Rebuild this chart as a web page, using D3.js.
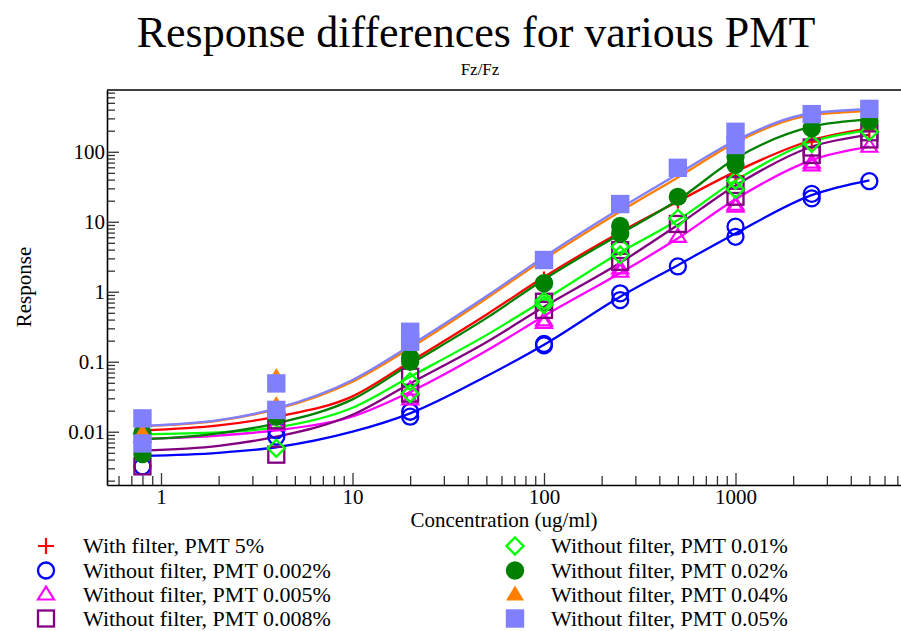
<!DOCTYPE html>
<html><head><meta charset="utf-8">
<script src="https://cdn.jsdelivr.net/npm/d3@7"></script>
<style>
html,body{margin:0;padding:0;background:#fff;}
svg{display:block;font-family:"Liberation Serif","Times New Roman",serif;}
</style></head><body>
<svg id="chart" width="901" height="631"></svg>
<script>
// ---------- data ----------
const titleText = "Response differences for various PMT";
const subtitleText = "Fz/Fz";
const xTitle = "Concentration (ug/ml)";
const yTitle = "Response";
const xTickValues = [1, 10, 100, 1000];
const xTickLabels = ["1", "10", "100", "1000"];
const yTickValues = [0.01, 0.1, 1, 10, 100];
const yTickLabels = ["0.01", "0.1", "1", "10", "100"];

const seriesNames = [
  "With filter, PMT 5%",
  "Without filter, PMT 0.002%",
  "Without filter, PMT 0.005%",
  "Without filter, PMT 0.008%",
  "Without filter, PMT 0.01%",
  "Without filter, PMT 0.02%",
  "Without filter, PMT 0.04%",
  "Without filter, PMT 0.05%"
];

// fitted curves, read at these concentrations
const curveConc = [0.8, 2, 4, 10, 20, 50, 100, 250, 500, 1000, 2500, 5000];
const fitPMT5    = [0.0104, 0.0123, 0.0164, 0.032, 0.100, 0.47, 1.62, 7.1, 19.5, 52, 146, 215];
const fitPMT0002 = [0.0045, 0.0050, 0.0060, 0.0100, 0.0183, 0.062, 0.175, 0.85, 2.4, 6.8, 24, 39];
const fitPMT0005 = [0.0079, 0.0088, 0.0105, 0.0165, 0.037, 0.143, 0.45, 1.85, 5.8, 21, 76, 118];
const fitPMT0008 = [0.0054, 0.0063, 0.0085, 0.0175, 0.049, 0.19, 0.61, 2.6, 9.0, 33, 118, 174];
const fitPMT001  = [0.0092, 0.0098, 0.0115, 0.022, 0.061, 0.24, 0.76, 3.65, 10.6, 39, 139, 204];
const fitPMT002  = [0.0078, 0.0095, 0.0132, 0.029, 0.092, 0.42, 1.5, 6.7, 20.4, 80, 228, 287];
const fitPMT004  = [0.0120, 0.0144, 0.0210, 0.052, 0.157, 0.80, 2.9, 14, 43, 135, 334, 380];
const fitPMT005  = [0.0121, 0.0146, 0.0215, 0.055, 0.170, 0.86, 3.15, 15.5, 48, 145, 355, 405];

// measured points [concentration, response]
const ptsPMT5 = [[0.8,0.0105],[4,0.0165],[20,0.098],[100,1.5],[250,7.0],[500,20],[1000,45],[2500,140],[5000,205]];
const ptsPMT0002 = [[0.8,0.0032],[4,0.0105],[4,0.0085],[20,0.0193],[20,0.0164],[100,0.18],[100,0.172],[250,0.95],[250,0.76],[500,2.3],[1000,8.5],[1000,6.1],[2500,25],[2500,21.6],[5000,38]];
const ptsPMT0005 = [[0.8,0.0085],[4,0.0124],[20,0.040],[20,0.029],[100,0.39],[100,0.36],[250,2.16],[250,1.93],[500,6.1],[1000,16.4],[1000,17.5],[2500,64],[2500,70],[5000,118]];
const ptsPMT0008 = [[0.8,0.0032],[4,0.0047],[4,0.0145],[20,0.061],[20,0.035],[100,0.72],[100,0.55],[250,3.94],[250,2.68],[500,9.3],[1000,33.5],[1000,22.8],[2500,115],[2500,90],[5000,190],[5000,150]];
const ptsPMT001 = [[0.8,0.0093],[4,0.0058],[20,0.052],[20,0.035],[100,0.74],[100,0.65],[250,4.4],[250,3.35],[500,11.2],[1000,39],[1000,29],[2500,132],[5000,193]];
const ptsPMT002 = [[0.8,0.0096],[0.8,0.0048],[4,0.0164],[20,0.115],[20,0.100],[100,1.32],[250,8.7],[250,6.8],[500,22.7],[1000,85],[1000,65],[2500,216],[5000,272]];
const ptsPMT004 = [[0.8,0.0097],[4,0.0605],[4,0.024],[20,0.24],[100,2.84],[250,17.9],[500,59],[1000,190],[1000,125],[2500,345],[5000,410]];
const ptsPMT005 = [[0.8,0.0155],[0.8,0.0068],[4,0.049],[4,0.0205],[20,0.268],[20,0.193],[100,2.84],[250,17.9],[500,59],[1000,193],[1000,125],[2500,345],[5000,410]];

const seriesColors = ["#ff0000","#0000ff","#ff00ff","#800080","#00ff00","#008000","#ff8000","#8080ff"];
const seriesSymbols = ["plus","circle","triangle","square","diamond","dot","filledTriangle","filledSquare"];
const seriesFits = [fitPMT5, fitPMT0002, fitPMT0005, fitPMT0008, fitPMT001, fitPMT002, fitPMT004, fitPMT005];
const seriesPts = [ptsPMT5, ptsPMT0002, ptsPMT0005, ptsPMT0008, ptsPMT001, ptsPMT002, ptsPMT004, ptsPMT005];

const series = seriesNames.map((name, i) => ({
  name, color: seriesColors[i], symbol: seriesSymbols[i],
  fit: curveConc.map((c, j) => [c, seriesFits[i][j]]),
  pts: seriesPts[i]
}));

// ---------- layout ----------
const svg = d3.select("#chart");
const L = 107, R = 901, T = 90, B = 485;
const x = d3.scaleLog().domain([0.5224, 7315]).range([L, R]);
const y = d3.scaleLog().domain([0.001733, 763]).range([B, T]);

// title
svg.append("text").attr("x", 476).attr("y", 47).attr("text-anchor", "middle")
  .attr("font-size", 44).attr("fill", "#000").text(titleText);
svg.append("text").attr("x", 480).attr("y", 75).attr("text-anchor", "middle")
  .attr("font-size", 17).attr("fill", "#000").text(subtitleText);

// axes
const isPow = v => Math.abs(Math.log10(v) - Math.round(Math.log10(v))) < 1e-6;
const xMinor = x.ticks().filter(v => !isPow(v));
const yMinor = y.ticks().filter(v => !isPow(v));

const gx = svg.append("g").attr("transform", `translate(0,${B})`);
gx.call(d3.axisBottom(x).tickValues(xMinor).tickSize(-9).tickSizeOuter(0).tickFormat(""));
gx.call(g => g.select(".domain").remove());
const gx2 = svg.append("g").attr("transform", `translate(0,${B})`);
gx2.call(d3.axisBottom(x).tickValues(xTickValues).tickSize(-12).tickSizeOuter(0).tickPadding(4)
  .tickFormat((d, i) => xTickLabels[i]));

const gy = svg.append("g").attr("transform", `translate(${L},0)`);
gy.call(d3.axisLeft(y).tickValues(yMinor).tickSize(-8).tickSizeOuter(0).tickFormat(""));
gy.call(g => g.select(".domain").remove());
const gy2 = svg.append("g").attr("transform", `translate(${L},0)`);
gy2.call(d3.axisLeft(y).tickValues(yTickValues).tickSize(-12).tickSizeOuter(0).tickPadding(2)
  .tickFormat((d, i) => yTickLabels[i]));

svg.selectAll(".tick line").attr("stroke", "#333").attr("stroke-width", 1.3);
svg.selectAll(".domain").attr("stroke", "#000").attr("stroke-width", 1.6);
svg.selectAll(".tick text").attr("font-family", "Liberation Serif, Times New Roman, serif")
  .attr("font-size", 21).attr("fill", "#000");

// top border
svg.append("line").attr("x1", L).attr("x2", R).attr("y1", T).attr("y2", T)
  .attr("stroke", "#000").attr("stroke-width", 1.6);

// axis titles
svg.append("text").attr("x", 504).attr("y", 527).attr("text-anchor", "middle")
  .attr("font-size", 21).attr("fill", "#000").text(xTitle);
svg.append("text").attr("transform", "translate(31,287) rotate(-90)").attr("text-anchor", "middle")
  .attr("font-size", 21).attr("fill", "#000").text(yTitle);

// curves
const line = d3.line().x(d => x(d[0])).y(d => y(d[1])).curve(d3.curveMonotoneX);
const gl = svg.append("g");
series.forEach(s => {
  gl.append("path").datum(s.fit).attr("d", line).attr("fill", "none")
    .attr("stroke", s.color).attr("stroke-width", 2.3);
});

// markers
function marker(g, type, color, cx, cy) {
  switch (type) {
    case "plus":
      g.append("path").attr("d", `M${cx-8},${cy}H${cx+8}M${cx},${cy-8}V${cy+8}`)
        .attr("fill", "none").attr("stroke", color).attr("stroke-width", 2.2); break;
    case "circle":
      g.append("circle").attr("cx", cx).attr("cy", cy).attr("r", 8)
        .attr("fill", "none").attr("stroke", color).attr("stroke-width", 2.3); break;
    case "triangle":
      g.append("path").attr("d", `M${cx},${cy-8}L${cx+8},${cy+5}L${cx-8},${cy+5}Z`)
        .attr("fill", "none").attr("stroke", color).attr("stroke-width", 2.2); break;
    case "square":
      g.append("rect").attr("x", cx-8).attr("y", cy-8).attr("width", 16).attr("height", 16)
        .attr("fill", "none").attr("stroke", color).attr("stroke-width", 2.3); break;
    case "diamond":
      g.append("path").attr("d", `M${cx},${cy-8.5}L${cx+8.5},${cy}L${cx},${cy+8.5}L${cx-8.5},${cy}Z`)
        .attr("fill", "none").attr("stroke", color).attr("stroke-width", 2.3); break;
    case "dot":
      g.append("circle").attr("cx", cx).attr("cy", cy).attr("r", 9.2).attr("fill", color); break;
    case "filledTriangle":
      g.append("path").attr("d", `M${cx},${cy-9}L${cx+9},${cy+6}L${cx-9},${cy+6}Z`).attr("fill", color); break;
    case "filledSquare":
      g.append("rect").attr("x", cx-9.2).attr("y", cy-9.2).attr("width", 18.4).attr("height", 18.4)
        .attr("fill", color); break;
  }
}
const gm = svg.append("g");
series.forEach(s => {
  s.pts.forEach(p => marker(gm, s.symbol, s.color, x(p[0]), y(p[1])));
});

// legend
const legRowsY = [546, 570.5, 594.5, 618.5];
const legColX = [46, 515];
const legTextX = [83, 551];
const gleg = svg.append("g");
series.forEach((s, i) => {
  const col = Math.floor(i / 4), row = i % 4;
  marker(gleg, s.symbol, s.color, legColX[col], legRowsY[row]);
  gleg.append("text").attr("x", legTextX[col]).attr("y", legRowsY[row]).attr("dy", "0.34em")
    .attr("font-size", 22).attr("fill", "#000").text(s.name);
});
</script></body></html>
